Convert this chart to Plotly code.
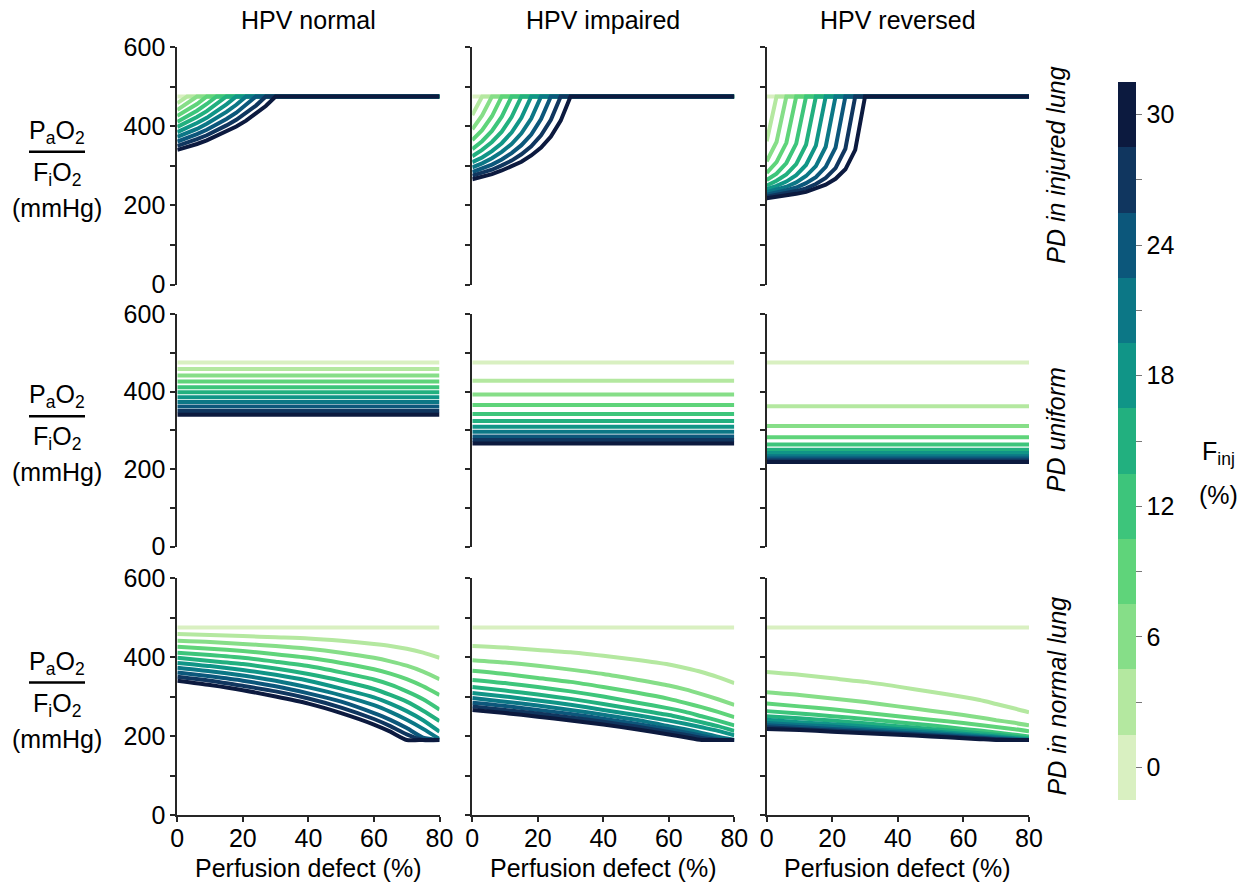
import plotly.graph_objects as go

W, H = 1245, 887

# ---------------- data ----------------
F_INJ = [0, 3, 6, 9, 12, 15, 18, 21, 24, 27, 30]
COLORS = ['#d9f0c1', '#b4e8a0', '#86de88', '#5fd47a', '#3dc57b', '#22b07f',
          '#109587', '#0c7786', '#0c577b', '#10365f', '#0c1a3f']
COL_TITLES = ["HPV normal", "HPV impaired", "HPV reversed"]
ROW_LABELS = ["PD in injured lung", "PD uniform", "PD in normal lung"]
Y_TICKS = [0, 100, 200, 300, 400, 500, 600]
Y_TICKTEXT = ["0", "", "200", "", "400", "", "600"]
X_TICKS = [0, 20, 40, 60, 80]
CB_TICKS = [0, 3, 6, 9, 12, 15, 18, 21, 24, 27, 30]
CB_TICKTEXT = ["0", "", "6", "", "12", "", "18", "", "24", "", "30"]

# Row 1: perfusion defect in injured lung
PD_INJ = [0, 3, 6, 9, 12, 15, 18, 21, 24, 27, 30, 80]
INJ_HPV_NORMAL = [
    [475, 475, 475, 475, 475, 475, 475, 475, 475, 475, 475, 475],
    [458, 475, 475, 475, 475, 475, 475, 475, 475, 475, 475, 475],
    [441, 457, 475, 475, 475, 475, 475, 475, 475, 475, 475, 475],
    [426, 440, 456, 475, 475, 475, 475, 475, 475, 475, 475, 475],
    [411, 424, 439, 456, 475, 475, 475, 475, 475, 475, 475, 475],
    [398, 410, 423, 438, 455, 475, 475, 475, 475, 475, 475, 475],
    [385, 396, 408, 421, 437, 455, 475, 475, 475, 475, 475, 475],
    [373, 382, 393, 406, 420, 436, 454, 475, 475, 475, 475, 475],
    [361, 370, 380, 391, 404, 418, 434, 453, 475, 475, 475, 475],
    [350, 358, 367, 377, 389, 402, 416, 433, 452, 475, 475, 475],
    [340, 347, 355, 364, 375, 386, 399, 414, 431, 451, 475, 475],
]
INJ_HPV_IMPAIRED = [
    [475, 475, 475, 475, 475, 475, 475, 475, 475, 475, 475, 475],
    [428, 475, 475, 475, 475, 475, 475, 475, 475, 475, 475, 475],
    [392, 427, 475, 475, 475, 475, 475, 475, 475, 475, 475, 475],
    [365, 390, 425, 475, 475, 475, 475, 475, 475, 475, 475, 475],
    [342, 362, 388, 424, 475, 475, 475, 475, 475, 475, 475, 475],
    [324, 340, 360, 386, 423, 475, 475, 475, 475, 475, 475, 475],
    [309, 321, 337, 357, 384, 421, 475, 475, 475, 475, 475, 475],
    [296, 306, 319, 335, 355, 382, 419, 475, 475, 475, 475, 475],
    [284, 293, 303, 316, 332, 352, 379, 418, 475, 475, 475, 475],
    [275, 282, 290, 301, 313, 329, 349, 377, 416, 475, 475, 475],
    [266, 272, 279, 288, 298, 310, 326, 346, 374, 414, 475, 475],
]
INJ_HPV_REVERSED = [
    [475, 475, 475, 475, 475, 475, 475, 475, 475, 475, 475, 475],
    [362, 475, 475, 475, 475, 475, 475, 475, 475, 475, 475, 475],
    [311, 360, 475, 475, 475, 475, 475, 475, 475, 475, 475, 475],
    [282, 309, 358, 475, 475, 475, 475, 475, 475, 475, 475, 475],
    [264, 280, 307, 356, 475, 475, 475, 475, 475, 475, 475, 475],
    [250, 262, 278, 304, 353, 475, 475, 475, 475, 475, 475, 475],
    [241, 249, 260, 276, 302, 351, 475, 475, 475, 475, 475, 475],
    [233, 239, 247, 258, 274, 299, 348, 475, 475, 475, 475, 475],
    [227, 232, 238, 245, 256, 271, 297, 346, 475, 475, 475, 475],
    [222, 226, 230, 236, 243, 254, 269, 294, 343, 475, 475, 475],
    [218, 221, 225, 229, 234, 242, 252, 267, 291, 340, 475, 475],
]

# Row 2: uniform perfusion defect (flat lines)
PD_UNIF = [0, 80]
UNIF_HPV_NORMAL = [475, 458, 441, 426, 411, 398, 385, 373, 361, 350, 340]
UNIF_HPV_IMPAIRED = [475, 428, 392, 365, 342, 324, 309, 296, 284, 275, 266]
UNIF_HPV_REVERSED = [475, 362, 311, 282, 263, 250, 241, 233, 227, 222, 218]

# Row 3: perfusion defect in normal lung
PD_NORM = [0, 10, 20, 30, 40, 50, 60, 65, 70, 75, 80]
NORM_HPV_NORMAL = [
    [475, 475, 475, 475, 475, 475, 475, 475, 475, 475, 475],
    [458, 456, 453, 450, 447, 441, 433, 428, 421, 411, 398],
    [441, 438, 433, 428, 421, 411, 398, 389, 378, 363, 344],
    [426, 421, 415, 407, 398, 385, 369, 358, 344, 326, 304],
    [411, 405, 398, 388, 377, 361, 343, 330, 313, 293, 267],
    [398, 390, 382, 371, 357, 340, 319, 304, 287, 264, 238],
    [385, 377, 367, 355, 340, 320, 298, 282, 263, 240, 211],
    [373, 364, 353, 340, 323, 303, 278, 261, 241, 218, 192],
    [361, 351, 340, 326, 308, 287, 258, 241, 220, 196, 190],
    [350, 340, 327, 313, 295, 272, 243, 225, 204, 190, 190],
    [340, 329, 316, 300, 282, 258, 229, 211, 190, 190, 190],
]
NORM_HPV_IMPAIRED = [
    [475, 475, 475, 475, 475, 475, 475, 475, 475, 475, 475],
    [428, 424, 418, 412, 403, 393, 381, 372, 362, 349, 334],
    [392, 386, 378, 368, 357, 343, 328, 318, 306, 293, 279],
    [365, 357, 347, 337, 324, 310, 294, 284, 273, 261, 248],
    [342, 334, 324, 313, 300, 285, 270, 261, 250, 239, 227],
    [324, 315, 305, 294, 281, 267, 253, 244, 235, 225, 213],
    [309, 300, 290, 279, 266, 253, 239, 231, 222, 213, 202],
    [296, 287, 277, 266, 254, 241, 225, 217, 208, 198, 190],
    [284, 276, 266, 256, 244, 231, 217, 209, 201, 192, 190],
    [275, 266, 257, 247, 236, 224, 210, 203, 195, 190, 190],
    [266, 258, 249, 239, 229, 217, 204, 197, 190, 190, 190],
]
NORM_HPV_REVERSED = [
    [475, 475, 475, 475, 475, 475, 475, 475, 475, 475, 475],
    [362, 355, 346, 337, 325, 312, 299, 291, 281, 271, 260],
    [311, 304, 295, 286, 275, 264, 253, 247, 240, 234, 227],
    [282, 275, 268, 259, 250, 241, 233, 228, 223, 218, 212],
    [263, 257, 250, 243, 235, 227, 218, 214, 209, 204, 199],
    [250, 245, 239, 232, 225, 218, 211, 207, 203, 199, 194],
    [241, 235, 230, 224, 218, 212, 206, 202, 199, 195, 192],
    [233, 228, 224, 218, 213, 208, 202, 199, 196, 193, 190],
    [227, 223, 218, 214, 209, 204, 199, 196, 193, 191, 190],
    [222, 218, 214, 210, 206, 201, 196, 194, 192, 190, 190],
    [218, 215, 211, 207, 203, 199, 194, 192, 190, 190, 190],
]

# ---------------- layout geometry (pixels) ----------------
COL_PX = [(177.3, 439.5), (472.3, 734.3), (766.7, 1029.0)]
ROW_PX = [(47.0, 284.5), (314.0, 546.5), (578.0, 815.0)]

FONT = "Liberation Sans, Arial, Helvetica, sans-serif"
AXIS_COLOR = "#262626"


def px_x(p):
    return p / W


def px_y(p):
    return 1 - p / H


fig = go.Figure()

panels = [
    [(PD_INJ, INJ_HPV_NORMAL), (PD_INJ, INJ_HPV_IMPAIRED), (PD_INJ, INJ_HPV_REVERSED)],
    [(PD_UNIF, UNIF_HPV_NORMAL), (PD_UNIF, UNIF_HPV_IMPAIRED), (PD_UNIF, UNIF_HPV_REVERSED)],
    [(PD_NORM, NORM_HPV_NORMAL), (PD_NORM, NORM_HPV_IMPAIRED), (PD_NORM, NORM_HPV_REVERSED)],
]

layout_axes = {}
for r in range(3):
    for c in range(3):
        n = r * 3 + c + 1
        xname = "x" if n == 1 else f"x{n}"
        yname = "y" if n == 1 else f"y{n}"
        xs, curves = panels[r][c]
        for i, f in enumerate(F_INJ):
            if r == 1:
                yvals = [curves[i], curves[i]]
            else:
                yvals = curves[i]
            line = dict(color=COLORS[i], width=4)
            if r == 2:
                line.update(shape="spline", smoothing=0.6)
            fig.add_trace(go.Scatter(
                x=xs, y=yvals, mode="lines", xaxis=xname, yaxis=yname,
                line=line, showlegend=False, hoverinfo="skip",
            ))
        xa = dict(
            domain=[px_x(COL_PX[c][0]), px_x(COL_PX[c][1])],
            range=[0, 80], anchor=yname, showgrid=False, zeroline=False,
            tickvals=X_TICKS, ticks="outside", ticklen=5, tickwidth=2,
            tickcolor=AXIS_COLOR, showline=True, linecolor=AXIS_COLOR, linewidth=2,
            tickfont=dict(size=25, color="black", family=FONT),
            ticklabelstandoff=-5,
            visible=(r == 2), fixedrange=True, automargin=False,
        )
        ya = dict(
            domain=[px_y(ROW_PX[r][1]), px_y(ROW_PX[r][0])],
            range=[0, 600], anchor=xname, showgrid=False, zeroline=False,
            tickvals=Y_TICKS, ticktext=Y_TICKTEXT, ticks="outside", ticklen=5,
            tickwidth=2, tickcolor=AXIS_COLOR, showline=True, linecolor=AXIS_COLOR,
            linewidth=2, showticklabels=(c == 0),
            tickfont=dict(size=25, color="black", family=FONT), fixedrange=True,
            automargin=False,
        )
        layout_axes["xaxis" if n == 1 else f"xaxis{n}"] = xa
        layout_axes["yaxis" if n == 1 else f"yaxis{n}"] = ya

# colorbar via a dummy trace
stepped = []
for i, col in enumerate(COLORS):
    stepped.append([i / len(COLORS), col])
    stepped.append([(i + 1) / len(COLORS), col])
fig.add_trace(go.Scatter(
    x=[None], y=[None], mode="markers", showlegend=False, hoverinfo="skip",
    marker=dict(
        color=[0], colorscale=stepped, cmin=-1.5, cmax=31.5, showscale=True,
        colorbar=dict(
            x=px_x(1118), xanchor="left", xpad=0,
            y=px_y(441), yanchor="middle", ypad=0,
            thickness=18, thicknessmode="pixels",
            len=718, lenmode="pixels",
            outlinewidth=0, tickvals=CB_TICKS, ticktext=CB_TICKTEXT,
            ticks="outside", ticklen=6, tickwidth=1, tickcolor="#777",
            tickfont=dict(size=25, color="black", family=FONT),
        ),
    ),
))

annotations = []
# column titles
for c, t in enumerate(COL_TITLES):
    annotations.append(dict(
        x=px_x((COL_PX[c][0] + COL_PX[c][1]) / 2), y=px_y(20), xref="paper", yref="paper",
        text=t, showarrow=False, font=dict(size=25, color="black", family=FONT),
        xanchor="center", yanchor="middle"))
# row labels
for r, t in enumerate(ROW_LABELS):
    annotations.append(dict(
        x=px_x(1056), y=px_y((ROW_PX[r][0] + ROW_PX[r][1]) / 2), xref="paper", yref="paper",
        text=f"<i>{t}</i>", showarrow=False, textangle=-90,
        font=dict(size=25, color="black", family="Liberation Sans Narrow, " + FONT),
        xanchor="center", yanchor="middle"))
# y-axis labels (fraction)
shapes = []
for r in range(3):
    cy = (ROW_PX[r][0] + ROW_PX[r][1]) / 2
    line_y = cy - 14
    annotations.append(dict(
        x=px_x(57), y=px_y(line_y - 20), xref="paper", yref="paper",
        text="P<sub>a</sub>O<sub>2</sub>", showarrow=False,
        font=dict(size=25, color="black", family=FONT), xanchor="center", yanchor="middle"))
    annotations.append(dict(
        x=px_x(57), y=px_y(line_y + 22), xref="paper", yref="paper",
        text="F<sub>i</sub>O<sub>2</sub>", showarrow=False,
        font=dict(size=25, color="black", family=FONT), xanchor="center", yanchor="middle"))
    annotations.append(dict(
        x=px_x(57), y=px_y(line_y + 56), xref="paper", yref="paper",
        text="(mmHg)", showarrow=False,
        font=dict(size=25, color="black", family=FONT), xanchor="center", yanchor="middle"))
    shapes.append(dict(type="line", xref="paper", yref="paper",
                       x0=px_x(29), x1=px_x(85), y0=px_y(line_y), y1=px_y(line_y),
                       line=dict(color="black", width=2.5)))
# x-axis titles
for c in range(3):
    annotations.append(dict(
        x=px_x((COL_PX[c][0] + COL_PX[c][1]) / 2), y=px_y(868), xref="paper", yref="paper",
        text="Perfusion defect (%)", showarrow=False,
        font=dict(size=25, color="black", family=FONT), xanchor="center", yanchor="middle"))
# colorbar title
annotations.append(dict(x=px_x(1218), y=px_y(453), xref="paper", yref="paper",
                        text="F<sub>inj</sub>", showarrow=False,
                        xanchor="center", yanchor="middle",
                        font=dict(size=25, color="black", family=FONT)))
annotations.append(dict(x=px_x(1218), y=px_y(495), xref="paper", yref="paper",
                        text="(%)", showarrow=False,
                        xanchor="center", yanchor="middle",
                        font=dict(size=25, color="black", family=FONT)))

fig.update_layout(
    width=W, height=H, margin=dict(l=0, r=0, t=0, b=0, pad=0, autoexpand=False),
    paper_bgcolor="white", plot_bgcolor="white",
    font=dict(family=FONT, color="black"),
    annotations=annotations, shapes=shapes, showlegend=False,
    **layout_axes,
)

fig.write_html(
    "out.html",
    config={"displayModeBar": False},
    post_script="document.body.style.margin='0';document.body.style.overflow='hidden';",
)
